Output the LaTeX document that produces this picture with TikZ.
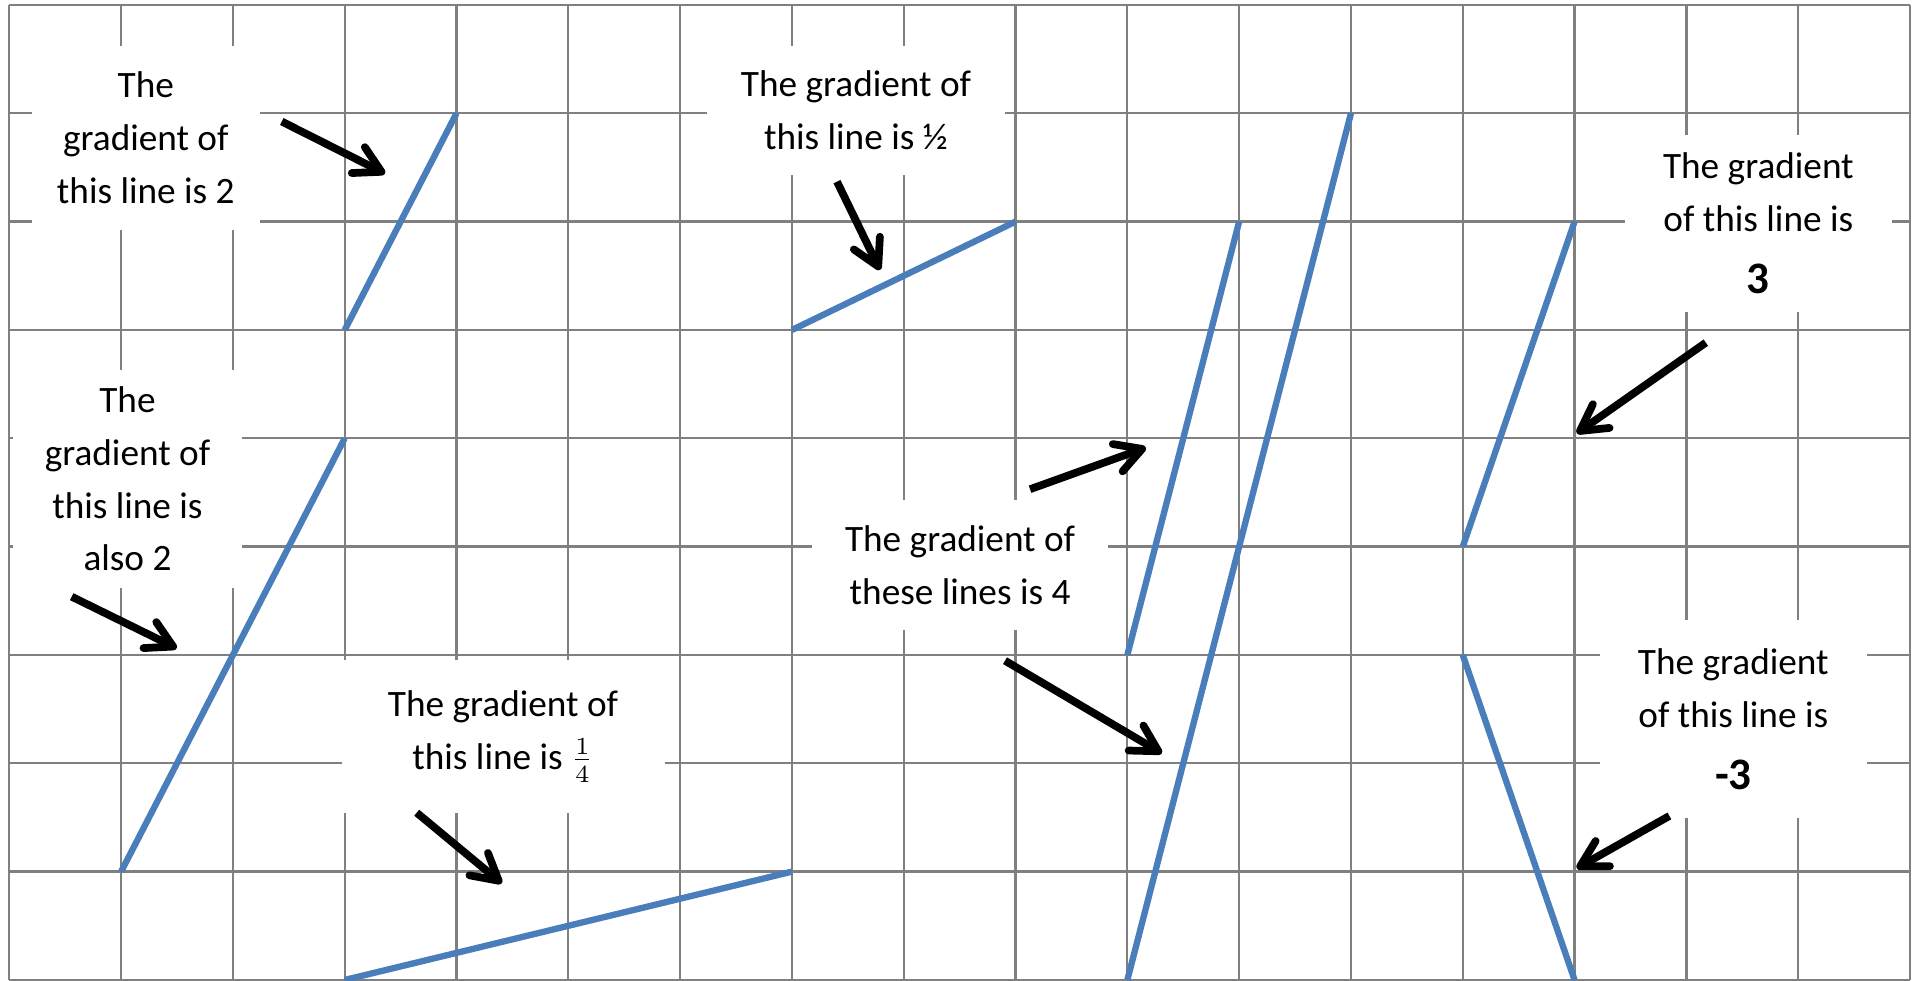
\documentclass[tikz,border=0pt]{standalone}
\usepackage{fontspec}
\setmainfont{Carlito}
\usepackage{tikz}
\usetikzlibrary{arrows.meta}

\definecolor{lineblue}{RGB}{74,126,187}
\definecolor{gridgray}{RGB}{128,128,128}
\newcommand{\bignum}[1]{{\fontsize{12.8}{15}\selectfont\bfseries #1}}

\begin{document}
\begin{tikzpicture}[
    x=1.118cm, y=1.0833cm,
    >={Straight Barb[round, length=2.6mm, width=2.9mm]},
    gridline/.style={draw=gridgray, line width=0.65pt},
    slope/.style={draw=lineblue, line width=1.8pt},
    note/.style={fill=white, inner sep=0pt, align=center, font=\fontsize{10.6}{15}\selectfont},
    arr/.style={->, line width=2.2pt},
]
\useasboundingbox (-0.0832,-0.0092) rectangle (17.081,9.046);

% ── Grid ──
\draw[gridline, step=1] (0,0) grid (17,9);

% ── Labels ──
\node[note, minimum width=2.28cm, minimum height=1.84cm] (two) at (1.221,7.774) {The\\gradient of\\this line is 2};
\node[note, minimum width=2.97cm, minimum height=1.29cm] (half) at (7.573,8.028) {The gradient of\\this line is ½};
\node[note, minimum width=2.29cm, minimum height=2.18cm] (alsotwo) at (1.057,4.625) {The\\gradient of\\this line is\\also 2};
\node[note, minimum width=3.23cm, minimum height=1.53cm] (quarter) at (4.416,2.246) {The gradient of\\this line is $\frac{1}{4}$};
\node[note, minimum width=2.96cm, minimum height=1.30cm] (four) at (8.504,3.831) {The gradient of\\these lines is 4};
\node[note, minimum width=2.67cm, minimum height=1.77cm] (three) at (15.644,6.985) {The gradient\\of this line is\\[2.6pt]\bignum{3}};
\node[note, minimum width=2.67cm, minimum height=1.98cm] (minusthree) at (15.42,2.408) {The gradient\\of this line is\\[2.6pt]\bignum{-3}};

% ── Lines ──
\draw[slope] (3,6) -- (4,8);
\draw[slope] (7,6) -- (9,7);
\draw[slope] (1,1) -- (3,5);
\draw[slope] (3,0) -- (7,1);
\draw[slope] (10,3) -- (11,7);
\draw[slope] (10,0) -- (12,8);
\draw[slope] (13,4) -- (14,7);
\draw[slope] (13,3) -- (14,0);

% ── Arrow ends ──
\coordinate (twoS) at (2.437,7.924);
\coordinate (twoE) at (3.360,7.444);
\coordinate (halfS) at (7.403,7.369);
\coordinate (halfE) at (7.787,6.554);
\coordinate (alsotwoS) at (0.558,3.538);
\coordinate (alsotwoE) at (1.497,3.062);
\coordinate (quarterS) at (3.644,1.544);
\coordinate (quarterE) at (4.404,0.893);
\coordinate (fourS1) at (9.130,4.530);
\coordinate (fourE1) at (10.165,4.914);
\coordinate (fourS2) at (8.906,2.947);
\coordinate (fourE2) at (10.308,2.093);
\coordinate (threeS) at (15.174,5.883);
\coordinate (threeE) at (14.020,5.047);
\coordinate (minusthreeS) at (14.848,1.514);
\coordinate (minusthreeE) at (14.020,1.031);

% ── Arrows ──
\draw[arr] (twoS) -- (twoE);
\draw[arr] (halfS) -- (halfE);
\draw[arr] (alsotwoS) -- (alsotwoE);
\draw[arr] (quarterS) -- (quarterE);
\draw[arr] (fourS1) -- (fourE1);
\draw[arr] (fourS2) -- (fourE2);
\draw[arr] (threeS) -- (threeE);
\draw[arr] (minusthreeS) -- (minusthreeE);

\end{tikzpicture}
\end{document}
